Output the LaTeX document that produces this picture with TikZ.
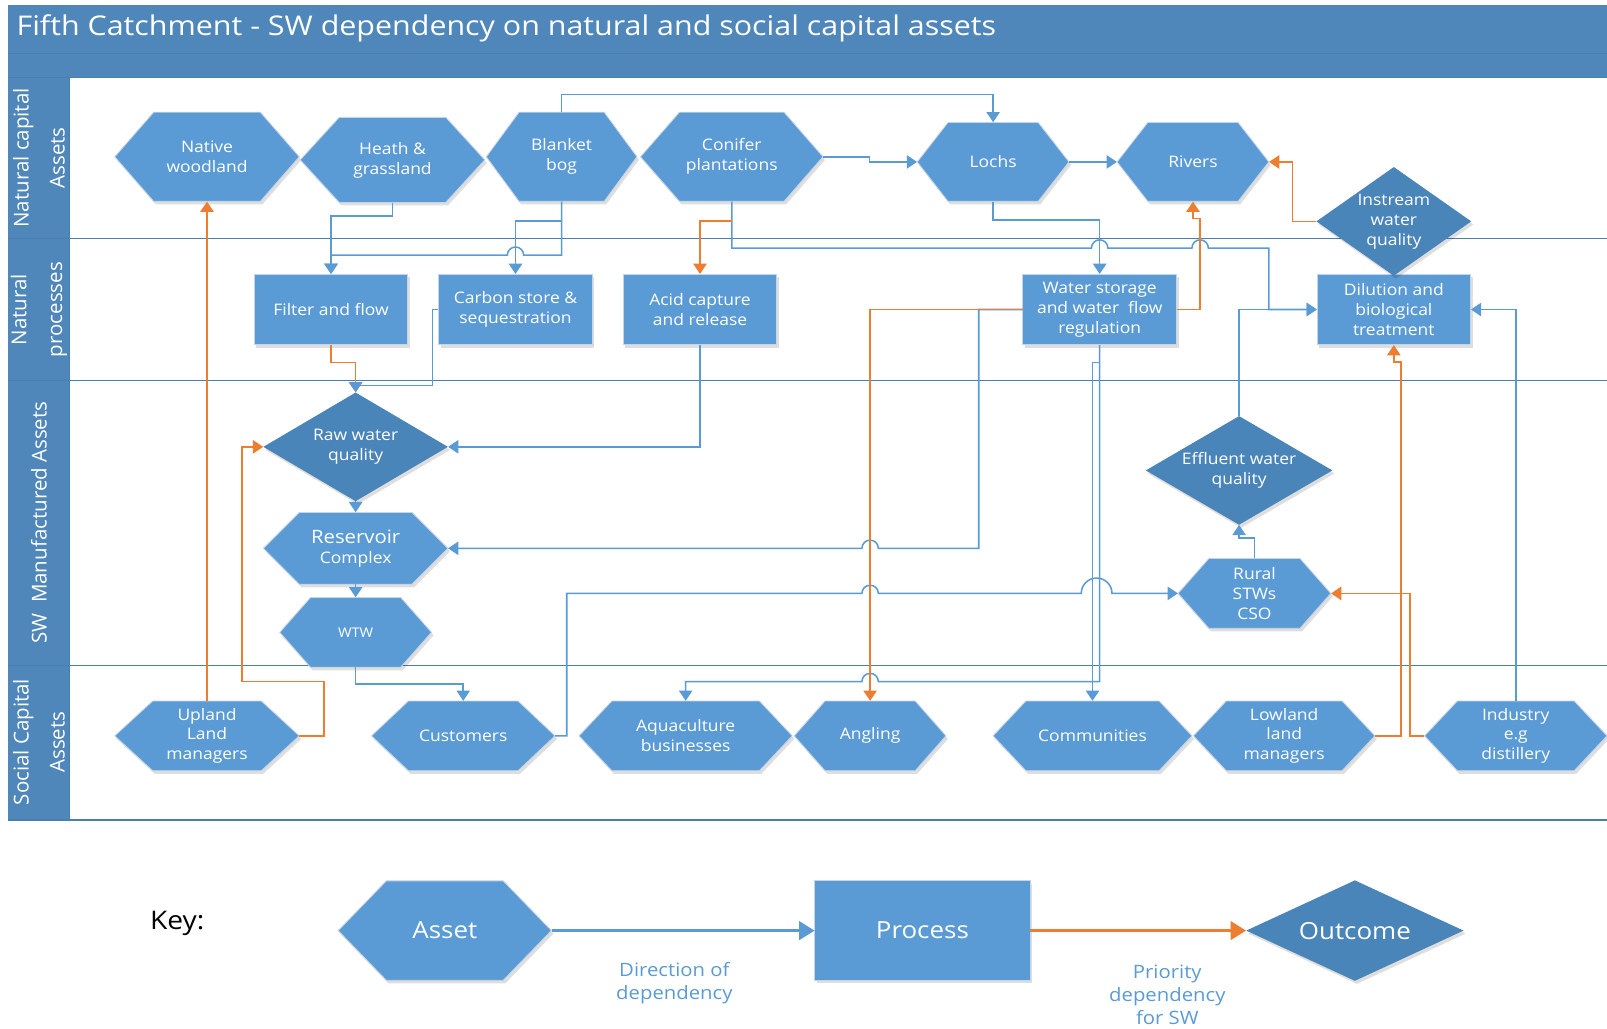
\documentclass[tikz,border=0pt]{standalone}
\usepackage{fontspec}
\setmainfont{Open Sans}
\newfontfamily\nf{Open Sans}[FakeStretch=1.1]
\newfontfamily\tf{Open Sans}[FakeStretch=1.12]
\usetikzlibrary{arrows.meta,calc}

\definecolor{cblue}{HTML}{5B9BD5}
\definecolor{cdiam}{HTML}{4A85BA}
\definecolor{ctitle}{HTML}{4F87BB}
\definecolor{clane}{HTML}{4A7EB0}
\definecolor{corange}{HTML}{ED7D31}
\definecolor{cedge}{HTML}{C5D5E6}

\tikzset{
  shp/.style={fill=cblue, draw=cedge, line width=0.8pt},
  dshp/.style={fill=cdiam, draw=none},
  shd/.style={fill=black, opacity=0.13},
  txt/.style={inner sep=0pt, text=white, align=center, font=\nf\fontsize{15.5}{19.5}\selectfont},
  arB/.style={draw=cblue, line width=1.5pt, -{Triangle[length=10pt,width=13pt]}},
  arO/.style={draw=corange, line width=1.5pt, -{Triangle[length=10pt,width=13pt]}},
  lane/.style={draw=clane, line width=1.2pt},
  lanelab/.style={rotate=90, text=white, align=center, inner sep=0pt, font=\fontsize{20}{35}\selectfont},
  keycap/.style={text=cblue, align=center, inner sep=0pt, font=\nf\fontsize{18}{22.5}\selectfont},
}

% hexagon: name, x, y, w, h, inset, text
\newcommand\hexn[7]{%
  \pgfmathsetmacro\hxA{#2-#4/2}\pgfmathsetmacro\hxB{#2-#4/2+#6}%
  \pgfmathsetmacro\hxC{#2+#4/2-#6}\pgfmathsetmacro\hxD{#2+#4/2}%
  \pgfmathsetmacro\hyA{#3-#5/2}\pgfmathsetmacro\hyB{#3+#5/2}%
  \path[shd] (\hxA+2,#3+3) -- (\hxB+2,\hyA+3) -- (\hxC+2,\hyA+3) -- (\hxD+2,#3+3) -- (\hxC+2,\hyB+3) -- (\hxB+2,\hyB+3) -- cycle;
  \path[shp] (\hxA,#3) -- (\hxB,\hyA) -- (\hxC,\hyA) -- (\hxD,#3) -- (\hxC,\hyB) -- (\hxB,\hyB) -- cycle;
  \node[txt, minimum width=#4, minimum height=#5] (#1) at (#2,#3) {#7};
}
% rectangle: name, x, y, w, h, text
\newcommand\rectn[6]{%
  \pgfmathsetmacro\hxA{#2-#4/2}\pgfmathsetmacro\hxD{#2+#4/2}%
  \pgfmathsetmacro\hyA{#3-#5/2}\pgfmathsetmacro\hyB{#3+#5/2}%
  \path[shd] (\hxA+2,\hyA+3) rectangle (\hxD+2,\hyB+3);
  \path[shp] (\hxA,\hyA) rectangle (\hxD,\hyB);
  \node[txt, minimum width=#4, minimum height=#5] (#1) at (#2,#3) {#6};
}
% diamond: name, x, y, w, h, text
\newcommand\diamn[6]{%
  \pgfmathsetmacro\hxA{#2-#4/2}\pgfmathsetmacro\hxD{#2+#4/2}%
  \pgfmathsetmacro\hyA{#3-#5/2}\pgfmathsetmacro\hyB{#3+#5/2}%
  \path[shd] (\hxA+2,#3+3) -- (#2+2,\hyA+3) -- (\hxD+2,#3+3) -- (#2+2,\hyB+3) -- cycle;
  \path[dshp] (\hxA,#3) -- (#2,\hyA) -- (\hxD,#3) -- (#2,\hyB) -- cycle;
  \node[txt, minimum width=#4, minimum height=#5] (#1) at (#2,#3) {#6};
}

\begin{document}
\begin{tikzpicture}[x=1pt, y=-1pt]
\useasboundingbox (0,0) rectangle (1568,1004);
\fill[white] (0,0) rectangle (1568,1004);

% title band and lanes
\fill[ctitle] (8,5) rectangle (1568,76);
\draw[clane, line width=1pt] (8,52) -- (1568,52);
\draw[clane, line width=1pt] (8,76) -- (1568,76);
\fill[ctitle] (8,76) rectangle (68,800);
\draw[lane] (68,76) -- (68,800);
\draw[lane] (8,233) -- (1568,233);
\draw[lane] (8,371) -- (1568,371);
\draw[lane] (8,649) -- (1568,649);
\draw[lane] (8,800) -- (1568,800);

\node[anchor=west, text=white, inner sep=0pt, font=\tf\fontsize{26.5}{30}\selectfont] (title) at (16,28) {Fifth Catchment - SW dependency on natural and social capital assets};

\node[lanelab] (lab1) at (38,154) {Natural capital\\Assets};
\node[lanelab] (lab2) at (38,302) {Natural\\processes};
\node[lanelab] (lab3) at (38,510) {SW\ \ Manufactured Assets};
\node[lanelab] (lab4) at (38,724) {Social Capital\\Assets};

% natural capital assets
\hexn{nw}{202}{153}{180}{87}{38}{Native\\woodland}
\hexn{hg}{383}{156}{180}{83}{38}{Heath \&\\grassland}
\hexn{bb}{548}{153}{147}{87}{32}{Blanket\\bog}
\hexn{cp}{714}{153}{178}{87}{38}{Conifer\\plantations}
\hexn{lo}{969}{158}{148}{77}{30}{Lochs}
\hexn{ri}{1164}{158}{148}{77}{30}{Rivers}

% natural processes
\rectn{ff}{323}{302}{150}{69}{Filter and flow}
\rectn{cs}{503}{302}{150}{69}{Carbon store \&\\sequestration}
\rectn{ac}{683}{302}{150}{69}{Acid capture\\and release}
\rectn{ws}{1073}{302}{150}{69}{Water storage\\and water~ flow\\regulation}
\rectn{db}{1360}{302}{150}{69}{Dilution and\\biological\\treatment}
\diamn{iw}{1360}{216}{151}{106}{Instream\\water\\quality}

% SW manufactured assets
\diamn{rw}{347}{436}{180}{106}{Raw water\\quality}
\hexn{rc}{347}{535}{180}{70}{35}{\fontsize{18}{21.5}\selectfont Reservoir\\Complex}
\hexn{wtw}{347}{617}{148}{68}{30}{\fontsize{13}{16}\selectfont WTW}
\diamn{ew}{1209}{459}{182}{106}{Effluent water\\quality}
\hexn{rs}{1224}{579}{149}{68}{30}{Rural\\STWs\\CSO}

% social capital assets
\hexn{ul}{202}{718}{180}{68}{37}{Upland\\Land\\managers}
\hexn{cu}{452}{718}{179}{68}{36}{Customers}
\hexn{aq}{669}{718}{208}{68}{32}{Aquaculture\\businesses}
\hexn{an}{849}{718}{148}{68}{30}{Angling}
\hexn{co}{1066}{718}{194}{68}{32}{Communities}
\hexn{ll}{1253}{718}{177}{68}{32}{Lowland\\land\\managers}
\hexn{ind}{1479}{718}{178}{68}{32}{Industry\\e.g\\distillery}

% connectors: orange drawn under blue at raw water top
\draw[arO] (ff.south) -- ++(0,17) -| (rw.north);

% blue connectors
\draw[arB] (bb.north) -- ++(0,-17) -| (lo.north);
\draw[arB] (cp.east) -- ++(45,0) |- (lo.west);
\draw[arB] (lo.east) -- (ri.west);
\draw[arB] (hg.south) -- ++(0,13) -| (ff.north);
\draw[arB] (bb.south) -- (548,249) -- (511,249) arc[start angle=0,end angle=-180,radius=8] -- (323,249) -- (ff.north);
\draw[arB] (bb.south) -- ++(0,19) -| (cs.north);
\draw[arB] (cp.south) -- (714,242) -- (1065,242) arc[start angle=180,end angle=360,radius=8] -- (1163,242) arc[start angle=180,end angle=360,radius=8] -- (1238,242) -- (1238,302) -- (db.west);
\draw[arB] (lo.south) -- ++(0,18) -| (ws.north);
\draw[arB] (ws.west) -- (955,302) -- (955,535) -- (857,535) arc[start angle=0,end angle=-180,radius=8] -- (rc.east);
\draw[arB] (ws.south) -- ++(0,17) -| (co.north);
\draw[arB] (ws.south) -- (1073,665) -- (857,665) arc[start angle=0,end angle=-180,radius=8] -| (aq.north);
\draw[arB] (cu.east) -- (553,718) -- (553,579) -- (841,579) arc[start angle=180,end angle=360,radius=8] -- (1055,579) arc[start angle=180,end angle=360,radius=15] -- (rs.west);
\draw[arB] (wtw.south) -- ++(0,16) -| (cu.north);
\draw[arB] (cs.west) -- (422,302) -- (422,376) -| (rw.north);
\draw[arB] (ac.south) |- (rw.east);
\draw[arB] (rw.south) -- (rc.north);
\draw[arB] (rc.south) -- (wtw.north);
\draw[arB] (rs.north) -- ++(0,-20) -| (ew.south);
\draw[arB] (ew.north) |- (db.west);
\draw[arB] (ind.north) |- (db.east);

% orange connectors
\draw[arO] (iw.west) -- ++(-23,0) |- (ri.east);
\draw[arO] (ul.north) -- (nw.south);
\draw[arO] ($(cp.south)+(0,19)$) -| (ac.north);
\draw[arO] (ws.east) -- (1171,302) -- (1171,213) -- (1164,213) -- (ri.south);
\draw[arO] (ws.west) -| (an.north);
\draw[arO] (ul.east) -- (316,718) -- (316,665) -- (236,665) |- (rw.west);
\draw[arO] (ll.east) -- (1367,718) -- (1367,353) -- (1360,353) -- (db.south);
\draw[arO] (ind.west) -- (1376,718) |- (rs.east);

% key
\node[inner sep=0pt, font=\nf\fontsize{25}{30}\selectfont] (key) at (173,901) {Key:};
\hexn{kA}{434}{908}{208}{97}{47}{\fontsize{23}{28}\selectfont Asset}
\rectn{kP}{900}{908}{210}{97}{\fontsize{23}{28}\selectfont Process}
\diamn{kO}{1322}{908}{212}{98}{\fontsize{23}{28}\selectfont Outcome}
\draw[draw=cblue, line width=2.5pt, -{Triangle[length=15pt,width=18pt]}] (kA.east) -- (kP.west);
\draw[draw=corange, line width=2.5pt, -{Triangle[length=15pt,width=18pt]}] (kP.east) -- (kO.west);
\node[keycap] (cap1) at (658,959) {Direction of\\dependency};
\node[keycap] (cap2) at (1139,971) {Priority\\dependency\\for SW};
\end{tikzpicture}
\end{document}
